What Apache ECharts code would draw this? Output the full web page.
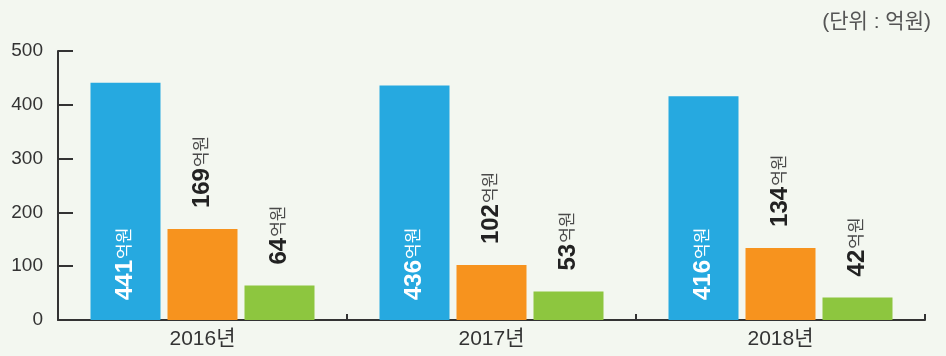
<!DOCTYPE html>
<html>
<head>
<meta charset="utf-8">
<style>
  html, body { margin: 0; padding: 0; background: #f3f7f0; }
  #chart { width: 946px; height: 356px; }
</style>
<script src="https://cdn.jsdelivr.net/npm/echarts@6/dist/echarts.min.js"></script>
</head>
<body>
<div id="chart"></div>
<script>
// Yearly amounts, in 억원
const years = ['2016년', '2017년', '2018년'];
const seriesA = [441, 436, 416];
const seriesB = [169, 102, 134];
const seriesC = [64, 53, 42];
const yTicks = { min: 0, max: 500, interval: 100 };
const unitNote = '(단위 : 억원)';

const FONT = '"Liberation Sans", "Noto Sans CJK KR", sans-serif';

function valueLabel(inside) {
  const numColor = inside ? '#ffffff' : '#222222';
  const unitColor = inside ? '#ffffff' : '#4a4a4a';
  return {
    show: true,
    position: inside ? 'insideBottom' : 'top',
    distance: inside ? 20 : 21,
    rotate: 90,
    align: 'left',
    verticalAlign: 'middle',
    formatter: '{n|{c}}{u|억원}',
    rich: {
      n: { fontSize: 24, fontWeight: 'bold', color: numColor, fontFamily: FONT },
      u: { fontSize: 17, color: unitColor, fontFamily: FONT, padding: [0, 0, 0, 1] }
    }
  };
}

const chart = echarts.init(document.getElementById('chart'), null, { renderer: 'canvas' });
chart.setOption({
  backgroundColor: '#f3f7f0',
  animation: false,
  textStyle: { fontFamily: FONT },
  title: {
    text: unitNote,
    right: 10,
    top: 7,
    textStyle: { fontSize: 21, fontWeight: 'normal', color: '#555555', fontFamily: FONT }
  },
  grid: { left: 58, right: 21, top: 51, bottom: 36, containLabel: false },
  xAxis: {
    type: 'category',
    data: years,
    axisLine: { lineStyle: { color: '#333333', width: 2 } },
    axisTick: { show: true, inside: true, length: 6, lineStyle: { color: '#333333', width: 2 } },
    axisLabel: { fontSize: 21, color: '#333333', margin: 9, fontFamily: FONT }
  },
  yAxis: {
    type: 'value',
    min: yTicks.min,
    max: yTicks.max,
    interval: yTicks.interval,
    splitLine: { show: false },
    axisLine: { show: true, lineStyle: { color: '#333333', width: 2 } },
    axisTick: { show: true, inside: true, length: 15, lineStyle: { color: '#333333', width: 2 } },
    axisLabel: { fontSize: 19, color: '#333333', margin: 15, fontFamily: FONT }
  },
  series: [
    { type: 'bar', data: seriesA, barWidth: 70, barGap: '10%', itemStyle: { color: '#26a9e0' }, label: valueLabel(true) },
    { type: 'bar', data: seriesB, barWidth: 70, barGap: '10%', itemStyle: { color: '#f7931e' }, label: valueLabel(false) },
    { type: 'bar', data: seriesC, barWidth: 70, barGap: '10%', itemStyle: { color: '#8dc63f' }, label: valueLabel(false) }
  ]
});
</script>
</body>
</html>
